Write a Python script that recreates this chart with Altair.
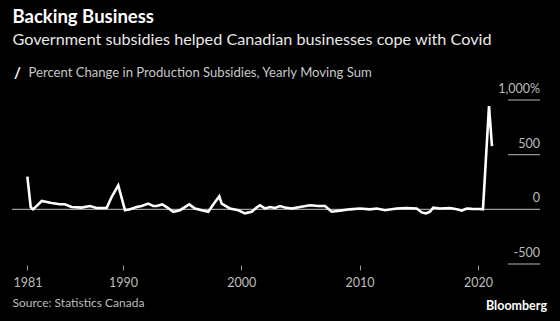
import altair as alt
import pandas as pd

# --- data ---
times = [1981.92, 1982.20, 1982.40, 1983.14, 1983.96, 1984.66, 1985.08, 1985.65, 1986.50, 1987.20,
         1987.77, 1988.62, 1989.04, 1989.60, 1990.17, 1990.59, 1991.16, 1991.58, 1992.14, 1992.56,
         1992.85, 1993.32, 1993.69, 1994.25, 1994.82, 1995.60, 1996.09, 1996.65, 1997.21, 1997.63,
         1998.14, 1998.34, 1999.04, 1999.75, 2000.31, 2000.88, 2001.30, 2001.58, 2002.00, 2002.42,
         2002.85, 2003.27, 2003.69, 2004.26, 2004.96, 2005.81, 2006.51, 2007.08, 2007.64, 2008.34,
         2009.19, 2010.03, 2010.88, 2011.45, 2012.15, 2013.14, 2013.98, 2014.83, 2015.25, 2015.61,
         2015.95, 2016.23, 2016.80, 2017.64, 2018.21, 2018.63, 2019.05, 2019.48, 2020.18, 2020.43,
         2020.94, 2021.19]
values = [300, 20, 0, 76, 58, 46, 46, 21, 16, 30,
          12, 12, 113, 220, -8, 0, 21, 30, 52, 30,
          30, 45, 21, -22, -8, 45, 8, -8, -22, 45,
          120, 52, 8, -8, -37, -22, 16, 37, 8, 21,
          12, 30, 16, 8, 21, 37, 30, 30, -22, -12,
          0, 8, 0, 8, -8, 8, 12, 8, -28, -37,
          -22, 16, 8, 12, 0, -12, 8, 4, 3, 0,
          945, 578]

x_tick_values = [1981.92, 1990, 2000, 2010, 2020]
x_tick_labels = ["1981", "1990", "2000", "2010", "2020"]
y_tick_values = [1000, 500, 0, -500]
y_tick_labels = ["1,000%", "500", "0", "-500"]

title_text = "Backing Business"
subtitle_text = "Government subsidies helped Canadian businesses cope with Covid"
legend_text = "Percent Change in Production Subsidies, Yearly Moving Sum"
legend_symbol = "/"
source_text = "Source: Statistics Canada"
brand_text = "Bloomberg"

FONT = "Lato"
W, H = 528, 164
X_DOMAIN = [1980.62, 2025.25]
Y_DOMAIN = [-500, 1000]

df = pd.DataFrame({"t": times, "v": values})
ydf = pd.DataFrame({"v": y_tick_values, "lab": y_tick_labels})
zdf = pd.DataFrame({"v": [0]})
gdf = pd.DataFrame({"v": [v for v in y_tick_values if v != 0]})

label_expr = " : ".join(
    [f"abs(datum.value - {v}) < 0.01 ? '{l}'" for v, l in zip(x_tick_values, x_tick_labels)] + ["''"]
)

xscale = alt.Scale(domain=X_DOMAIN, nice=False, zero=False)
yscale = alt.Scale(domain=Y_DOMAIN, nice=False, zero=False)

line = alt.Chart(df).mark_line(color="white", strokeWidth=2.6).encode(
    x=alt.X("t:Q", scale=xscale,
            axis=alt.Axis(values=x_tick_values, labelExpr=label_expr, title=None, domain=False,
                          grid=False, ticks=True, tickColor="#9a9a9a", tickSize=5, tickWidth=1,
                          labelColor="#bdbdbd", labelFontSize=12.5, labelFont=FONT, labelPadding=6,
                          labelFlush=False, labelOverlap=False, offset=1)),
    y=alt.Y("v:Q", scale=yscale, axis=None),
)

zero_rule = alt.Chart(zdf).mark_rule(color="#9a9a9a", strokeWidth=1.2).encode(
    y=alt.Y("v:Q", scale=yscale, axis=None))

grid_ticks = alt.Chart(gdf).mark_tick(
    color="#9a9a9a", thickness=1.2, size=32, orient="horizontal", opacity=1).encode(
    x=alt.value(W - 16),
    y=alt.Y("v:Q", scale=yscale, axis=None))

ylabels = alt.Chart(ydf).mark_text(
    align="right", baseline="bottom", dy=-4, color="#bdbdbd", fontSize=12.5, font=FONT).encode(
    x=alt.value(W), y=alt.Y("v:Q", scale=yscale, axis=None), text="lab:N")


def label(txt, x, y, size, color, weight="normal", align="left"):
    d = pd.DataFrame({"txt": [txt]})
    return alt.Chart(d).mark_text(
        align=align, baseline="middle", fontSize=size, font=FONT, fontWeight=weight, color=color,
        x=x, y=y
    ).encode(text="txt:N")


title = label(title_text, 0.5, -83, 18.5, "white", "bold")
subtitle = label(subtitle_text, 0.5, -60, 16.2, "#e8e8e8")
legend_txt = label(legend_text, 16.5, -27, 13.1, "#c8c8c8")
legend_icon = label(legend_symbol, 2, -27, 15, "white", "bold")
source = label(source_text, 0.5, 203, 12, "#bdbdbd")
brand = label(brand_text, 535, 206, 12.5, "white", "bold", "right")

chart = alt.layer(
    zero_rule, grid_ticks, ylabels, line, title, subtitle, legend_txt, legend_icon, source, brand
).properties(
    width=W, height=H,
    background="black",
    autosize=alt.AutoSizeParams(type="none"),
    padding={"left": 12, "top": 100, "right": 20, "bottom": 57},
).configure_view(strokeWidth=0)

chart.save("out.html", embed_options={"renderer": "svg", "actions": False})
